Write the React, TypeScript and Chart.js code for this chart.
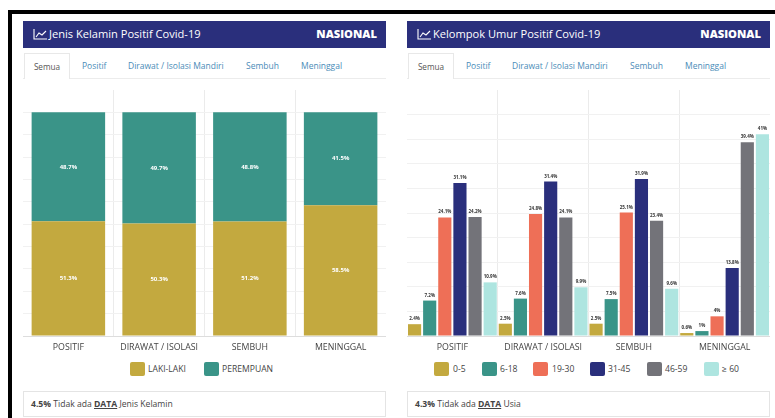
import React, { useEffect, useRef } from "react";
import { Chart, registerables } from "chart.js";

Chart.register(...registerables);

const genderCategories = ["POSITIF", "DIRAWAT / ISOLASI", "SEMBUH", "MENINGGAL"];
const maleValues = [51.3, 50.3, 51.2, 58.5];
const femaleValues = [48.7, 49.7, 48.8, 41.5];
const ageCategories = ["POSITIF", "DIRAWAT / ISOLASI", "SEMBUH", "MENINGGAL"];
const age0to5 = [2.4, 2.5, 2.5, 0.6];
const age6to18 = [7.2, 7.6, 7.5, 1];
const age19to30 = [24.1, 24.8, 25.1, 4];
const age31to45 = [31.1, 31.4, 31.9, 13.8];
const age46to59 = [24.2, 24.1, 23.4, 39.4];
const age60plus = [10.9, 9.9, 9.6, 41];

const GOLD = "#c3a93f";
const TEAL = "#3a9488";
const CORAL = "#ee6f57";
const NAVY = "#2a2f7c";
const GREY = "#737379";
const AQUA = "#aee5e0";
const FONT = '"Open Sans", "Noto Sans", sans-serif';

const genderLegend: [string, string, number, number][] = [
  ["LAKI-LAKI", GOLD, 130, 148],
  ["PEREMPUAN", TEAL, 204, 222],
];
const ageLegend: [string, string, number, number][] = [
  ["0-5", GOLD, 434, 453],
  ["6-18", TEAL, 482, 500],
  ["19-30", CORAL, 533, 552],
  ["31-45", NAVY, 590, 608],
  ["46-59", GREY, 647, 665],
  ["≥ 60", AQUA, 704, 722],
];

const valueLabels = (color: string, size: number, anchor: "center" | "end") => ({
  id: "valueLabels",
  afterDatasetsDraw(chart: any) {
    const ctx = chart.ctx;
    ctx.save();
    ctx.font = `bold ${size}px ${FONT}`;
    ctx.fillStyle = color;
    ctx.textAlign = "center";
    chart.data.datasets.forEach((ds: any, i: number) => {
      chart.getDatasetMeta(i).data.forEach((el: any, j: number) => {
        const y = anchor === "center" ? (el.y + el.base) / 2 : el.y - 3;
        ctx.textBaseline = anchor === "center" ? "middle" : "bottom";
        ctx.fillText(`${ds.data[j]}%`, el.x, y);
      });
    });
    ctx.restore();
  },
});

function ChartCanvas({ config }: { config: () => any }) {
  const ref = useRef<HTMLCanvasElement>(null);
  useEffect(() => {
    const chart = new Chart(ref.current!, config());
    return () => chart.destroy();
  }, []);
  return <canvas ref={ref} width={363} height={268} style={{ display: "block", width: 363, height: 268 }} />;
}

const xAxis = {
  afterFit: (s: any) => {
    s.height = 16;
  },
  grid: {
    color: (c: any) => (c.index === 0 ? "transparent" : "#ebebeb"),
    drawTicks: false,
  },
  border: { display: false },
  ticks: { color: "#444", font: { family: FONT, size: 8.8 }, padding: 6, maxRotation: 0, autoSkip: false },
};

const yGrid = (top: number) => ({
  color: (c: any) => (c.tick && c.tick.value === top ? "transparent" : c.tick && c.tick.value === 0 ? "#dddddd" : "#f1f1f1"),
  drawTicks: false,
});

const genderConfig = () => ({
  type: "bar",
  data: {
    labels: genderCategories,
    datasets: [
      { label: "LAKI-LAKI", data: maleValues, backgroundColor: GOLD },
      { label: "PEREMPUAN", data: femaleValues, backgroundColor: TEAL },
    ],
  },
  options: {
    responsive: false,
    animation: false,
    layout: { padding: { top: 6 } },
    scales: {
      x: { ...xAxis, stacked: true },
      y: {
        stacked: true,
        min: 0,
        max: 110,
        grid: yGrid(110),
        border: { display: false },
        ticks: { display: false, stepSize: 10 },
      },
    },
    datasets: { bar: { categoryPercentage: 0.81, barPercentage: 1 } },
    plugins: { legend: { display: false }, tooltip: { enabled: false } },
  },
  plugins: [valueLabels("#ffffff", 6, "center")],
});

const ageConfig = () => ({
  type: "bar",
  data: {
    labels: ageCategories,
    datasets: [
      { label: "0-5", data: age0to5, backgroundColor: GOLD },
      { label: "6-18", data: age6to18, backgroundColor: TEAL },
      { label: "19-30", data: age19to30, backgroundColor: CORAL },
      { label: "31-45", data: age31to45, backgroundColor: NAVY },
      { label: "46-59", data: age46to59, backgroundColor: GREY },
      { label: "≥ 60", data: age60plus, backgroundColor: AQUA },
    ],
  },
  options: {
    responsive: false,
    animation: false,
    layout: { padding: { top: 6 } },
    scales: {
      x: xAxis,
      y: {
        min: 0,
        max: 50,
        grid: yGrid(50),
        border: { display: false },
        ticks: { display: false, stepSize: 5 },
      },
    },
    datasets: { bar: { categoryPercentage: 1, barPercentage: 0.87 } },
    plugins: { legend: { display: false }, tooltip: { enabled: false } },
  },
  plugins: [valueLabels("#333333", 4.5, "end")],
});

const abs = (x: number, y: number, w: number, h: number): React.CSSProperties => ({
  position: "absolute",
  left: x,
  top: y,
  width: w,
  height: h,
});

function Panel({
  x,
  title,
  note,
  config,
  legend,
}: {
  x: number;
  title: string;
  note: string;
  config: () => any;
  legend: [string, string, number, number][];
}) {
  const tabs: [string, number, number][] = [
    ["Positif", 82, 36],
    ["Dirawat / Isolasi Mandiri", 128, 100],
    ["Sembuh", 246, 36],
    ["Meninggal", 301, 46],
  ];
  return (
    <>
      <div
        style={{
          ...abs(x, 21, 363, 27),
          background: NAVY,
          color: "#fff",
          font: `11.1px ${FONT}`,
          lineHeight: "26px",
        }}
      >
        <svg width="14" height="11" style={{ position: "absolute", left: 10, top: 8 }}>
          <path d="M1 0V10H14M3 8L6 4L9 6L13 2" stroke="#fff" fill="none" strokeWidth="1.1" />
        </svg>
        <span style={{ position: "absolute", left: 26, top: 0, whiteSpace: "nowrap" }}>{title}</span>
        <span style={{ position: "absolute", right: 9, top: 0, fontWeight: 800, fontSize: 11.2 }}>NASIONAL</span>
      </div>
      <div style={{ ...abs(x, 78, 363, 1), background: "#ececec" }} />
      <div
        style={{
          ...abs(x + 1, 53, 46, 26),
          background: "#fff",
          border: "1px solid #e8e8e8",
          borderBottom: "none",
          boxSizing: "border-box",
          color: "#555",
          font: `8.2px/25px ${FONT}`,
          textAlign: "center",
        }}
      >
        Semua
      </div>
      {tabs.map(([t, tx, w]) => (
        <div
          key={t}
          style={{
            ...abs(x - 23 + tx, 53, w, 26),
            color: "#4a8cb8",
            font: `8.5px/25px ${FONT}`,
            whiteSpace: "nowrap",
          }}
        >
          {t}
        </div>
      ))}
      <div style={abs(x, 84, 363, 268)}>
        <ChartCanvas config={config} />
      </div>
      {legend.map(([label, color, bx, tx]) => (
        <React.Fragment key={label}>
          <div style={{ ...abs(bx, 362, 15, 14), background: color, borderRadius: 2 }} />
          <div
            style={{
              ...abs(tx, 362, 70, 14),
              color: "#444",
              font: `8.6px/14px ${FONT}`,
              whiteSpace: "nowrap",
            }}
          >
            {label}
          </div>
        </React.Fragment>
      ))}
      <div
        style={{
          ...abs(x, 391, 363, 26),
          border: "1px solid #e4e4e4",
          boxSizing: "border-box",
          color: "#444",
          font: `8.6px/24px ${FONT}`,
          paddingLeft: 7,
          whiteSpace: "nowrap",
        }}
      >
        <b>{note.split(" ")[0]}</b> Tidak ada <b style={{ textDecoration: "underline" }}>DATA</b>{" "}
        {note.split(" ").slice(1).join(" ")}
      </div>
    </>
  );
}

export default function App() {
  return (
    <div style={{ ...abs(0, 0, 775, 418), background: "#fff", overflow: "hidden", filter: "blur(0.7px)" }}>
      <div style={{ ...abs(8, 10, 800, 420), border: "4px solid #000", boxSizing: "border-box" }} />
      <Panel
        x={23}
        title="Jenis Kelamin Positif Covid-19"
        note="4.5% Jenis Kelamin"
        config={genderConfig}
        legend={genderLegend}
      />
      <Panel x={407} title="Kelompok Umur Positif Covid-19" note="4.3% Usia" config={ageConfig} legend={ageLegend} />
    </div>
  );
}
